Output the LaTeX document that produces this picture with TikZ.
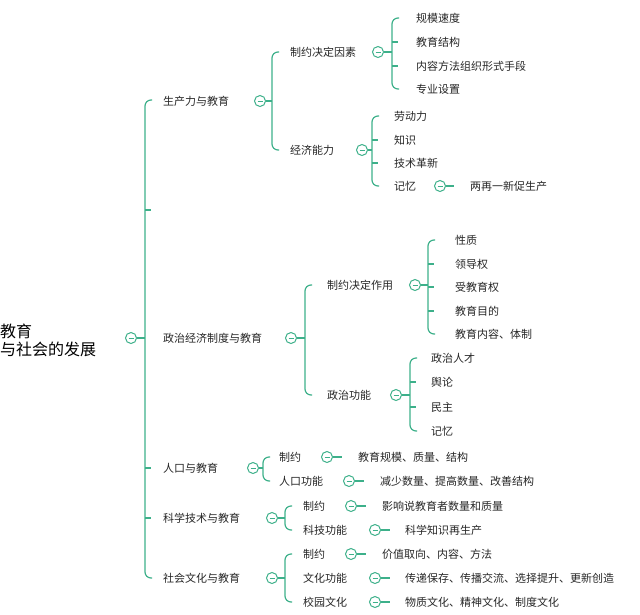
\documentclass[tikz,border=0pt]{standalone}
\usepackage{fontspec}
\setmainfont{Noto Sans CJK SC}
\definecolor{tl}{HTML}{3DB08A}
\begin{document}
\begin{tikzpicture}[x=1pt,y=-1pt,
  lbl/.style={anchor=west,inner sep=0pt,font=\fontsize{11}{13}\selectfont,text=black!85},
  ln/.style={draw=tl,line width=1.2pt},
  tog/.style={circle,draw=tl,line width=1pt,minimum size=11pt,inner sep=0pt,fill=white,
    path picture={\draw[tl,line width=0.7pt] ([xshift=-2.5pt]path picture bounding box.center)--([xshift=2.5pt]path picture bounding box.center);}}]
\useasboundingbox (0,0) rectangle (640,614);
\newcommand\brk[3]{\draw[ln,rounded corners=6pt] (#1+7,#2) -- (#1,#2) -- (#1,#3) -- (#1+7,#3);}
\newcommand\tk[2]{\draw[ln] (#1,#2)--(#1+6,#2);}
% root
\node[anchor=west,inner sep=0pt,font=\fontsize{16}{18}\selectfont,align=left] (root) at (0,340) {教育\\与社会的发展};
\node[tog] (c0) at (131,338) {};
\draw[ln] (c0) -- (145,338);
\draw[ln,rounded corners=6pt] (152,100) -- (145,100) -- (145,578) -- (152,578);
\tk{145}{210}\tk{145}{468}\tk{145}{518}
% 生产力
\node[lbl] (a) at (163,101) {生产力与教育};
\node[tog] (ca) at (260,101) {}; \draw[ln] (ca)--(272,101);
\brk{272}{52}{150}
\node[lbl] (a1) at (290,52) {制约决定因素};
\node[tog] (ca1) at (378,52) {}; \draw[ln] (ca1)--(392,52);
\brk{392}{18}{89}\tk{392}{42}\tk{392}{66}
\node[lbl] at (416,18) {规模速度};
\node[lbl] at (416,42) {教育结构};
\node[lbl] at (416,66) {内容方法组织形式手段};
\node[lbl] at (416,89) {专业设置};
\node[lbl] (a2) at (290,150) {经济能力};
\node[tog] (ca2) at (362,150) {}; \draw[ln] (ca2)--(372,150);
\brk{372}{116}{186}\tk{372}{140}\tk{372}{163}
\node[lbl] at (394,116) {劳动力};
\node[lbl] at (394,140) {知识};
\node[lbl] at (394,163) {技术革新};
\node[lbl] at (394,186) {记忆};
\node[tog] (cm) at (440,186) {};
\node[lbl] (m) at (470,186) {两再一新促生产};
\coordinate (mm) at (454,186);
\draw[ln] (cm)--(mm);
% 政治
\node[lbl] (b) at (163,338) {政治经济制度与教育};
\node[tog] (cb) at (291,338) {}; \draw[ln] (cb)--(305,338);
\brk{305}{285}{395}
\node[lbl] at (327,285) {制约决定作用};
\node[tog] (cb1) at (415,285) {}; \draw[ln] (cb1)--(428,285);
\brk{428}{240}{334}\tk{428}{264}\tk{428}{287}\tk{428}{311}
\node[lbl] at (455,240) {性质};
\node[lbl] at (455,264) {领导权};
\node[lbl] at (455,287) {受教育权};
\node[lbl] at (455,311) {教育目的};
\node[lbl] at (455,334) {教育内容、体制};
\node[lbl] at (327,395) {政治功能};
\node[tog] (cb2) at (396,395) {}; \draw[ln] (cb2)--(410,395);
\brk{410}{358}{431}\tk{410}{382}\tk{410}{407}
\node[lbl] at (431,358) {政治人才};
\node[lbl] at (431,382) {舆论};
\node[lbl] at (431,407) {民主};
\node[lbl] at (431,431) {记忆};
% 人口
\node[lbl] at (163,468) {人口与教育};
\node[tog] (cc) at (253,468) {}; \draw[ln] (cc)--(263,468);
\brk{263}{457}{481}
\node[lbl] at (279,457) {制约};
\node[tog] (cc1) at (327,457) {};
\node[lbl] (c1) at (358,457) {教育规模、质量、结构}; \draw[ln] (cc1.east)--++(9,0);
\node[lbl] at (279,481) {人口功能};
\node[tog] (cc2) at (349,481) {};
\node[lbl] (c2) at (380,481) {减少数量、提高数量、改善结构}; \draw[ln] (cc2.east)--++(9,0);
% 科技
\node[lbl] at (163,518) {科学技术与教育};
\node[tog] (cd) at (272,518) {}; \draw[ln] (cd)--(285,518);
\brk{285}{506}{530}
\node[lbl] at (303,506) {制约};
\node[tog] (cd1) at (351,506) {};
\node[lbl] (d1) at (382,506) {影响说教育者数量和质量}; \draw[ln] (cd1.east)--++(9,0);
\node[lbl] at (303,530) {科技功能};
\node[tog] (cd2) at (375,530) {};
\node[lbl] (d2) at (405,530) {科学知识再生产}; \draw[ln] (cd2.east)--++(9,0);
% 文化
\node[lbl] at (163,578) {社会文化与教育};
\node[tog] (ce) at (272,578) {}; \draw[ln] (ce)--(285,578);
\brk{285}{554}{602}
\node[lbl] at (303,554) {制约};
\node[tog] (ce1) at (351,554) {};
\node[lbl] (e1) at (382,554) {价值取向、内容、方法}; \draw[ln] (ce1.east)--++(9,0);
\node[lbl] at (303,578) {文化功能};
\node[tog] (ce2) at (375,578) {};
\node[lbl] (e2) at (405,578) {传递保存、传播交流、选择提升、更新创造}; \draw[ln] (ce2.east)--++(9,0);
\node[lbl] at (303,602) {校园文化};
\node[tog] (ce3) at (375,602) {};
\node[lbl] (e3) at (405,602) {物质文化、精神文化、制度文化}; \draw[ln] (ce3.east)--++(9,0);
\end{tikzpicture}
\end{document}
